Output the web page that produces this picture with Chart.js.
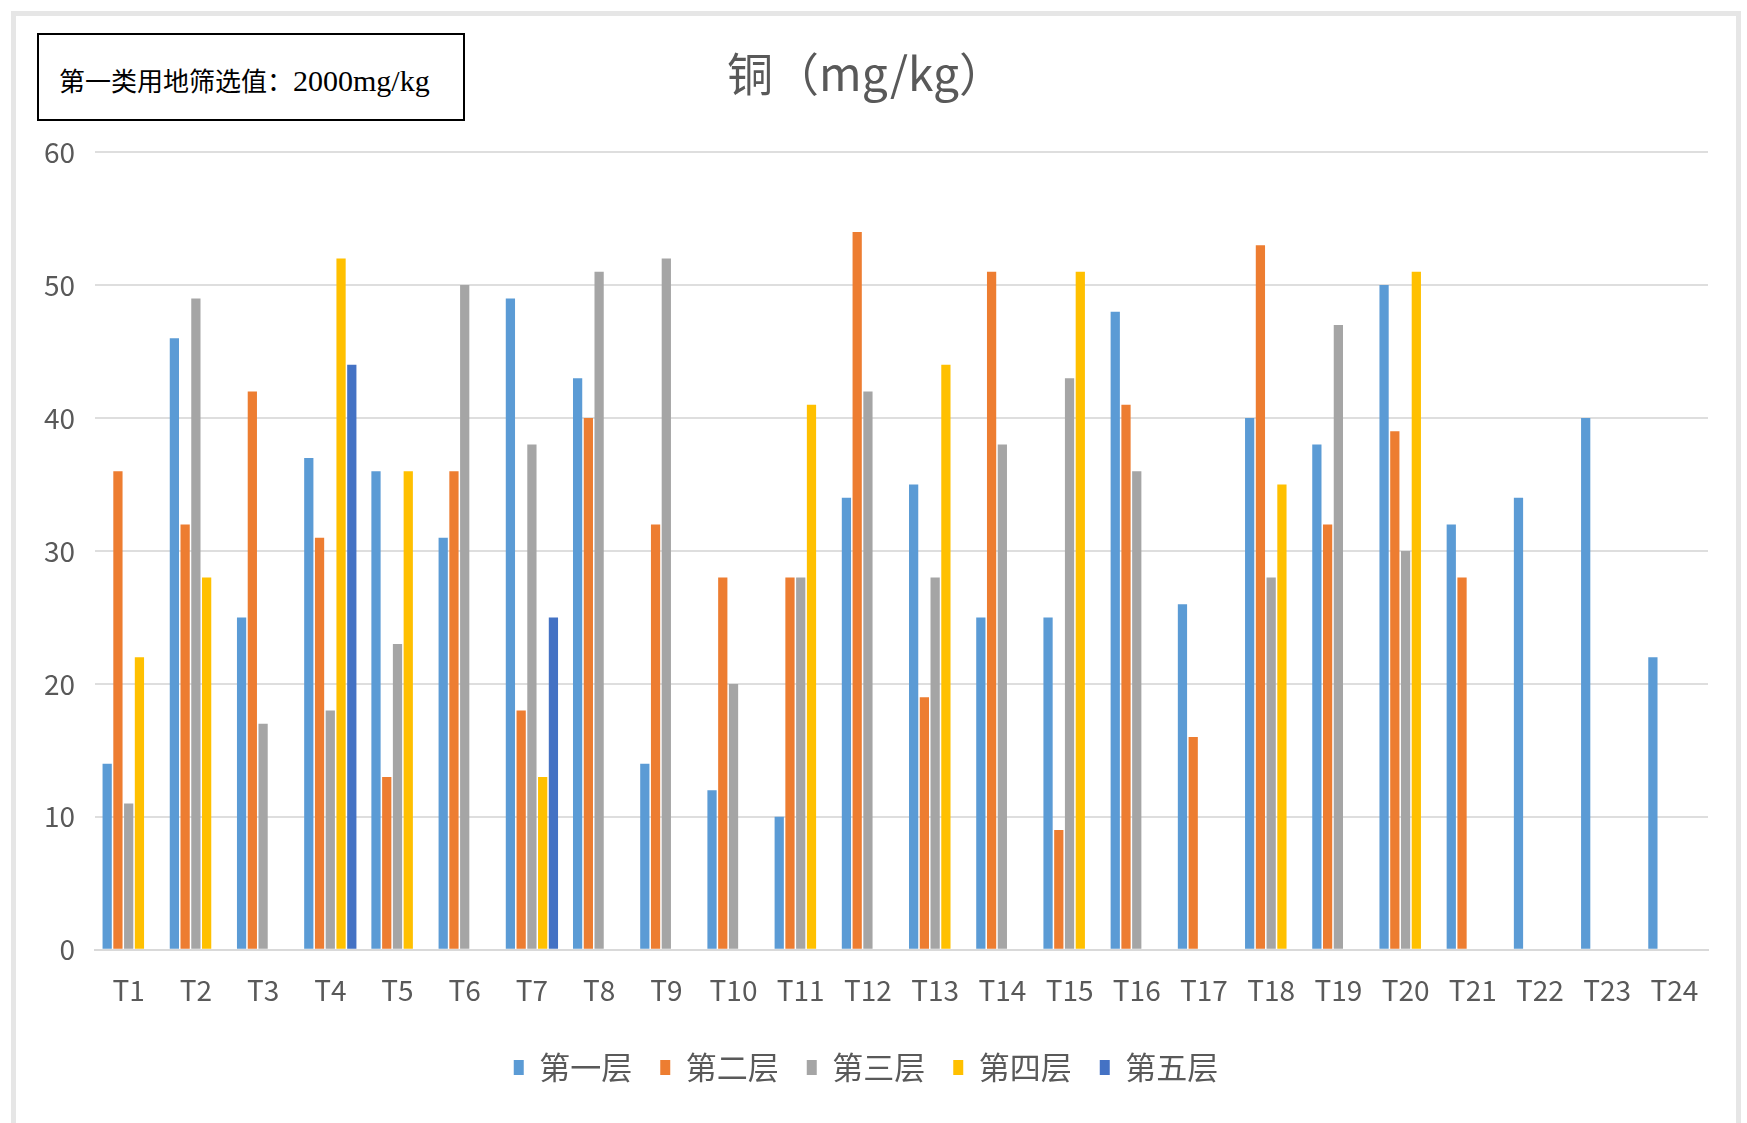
<!DOCTYPE html>
<html>
<head>
<meta charset="utf-8">
<script src="https://cdn.jsdelivr.net/npm/chart.js@4.4.1/dist/chart.umd.min.js"></script>
<style>
  body { margin: 0; background: #fff; }
  #wrap { position: relative; width: 1747px; height: 1123px; overflow: hidden; }
  #frame { position: absolute; left: 11px; top: 11px; width: 1730px; height: 1120px;
           border: 5px solid #e6e6e6; border-bottom: none; box-sizing: border-box; }
  #grafico { position: absolute; left: 0; top: 0; }
  #nota { position: absolute; left: 37px; top: 33px; width: 428px; height: 88px;
          border: 2px solid #000; background: #fff; box-sizing: border-box;
          font-family: "Noto Sans CJK SC", serif; font-size: 26px;
          color: #000; line-height: 90px; padding-left: 20px; white-space: nowrap; }
  #nota span { font-family: "Liberation Serif", serif; font-size: 30px; }
</style>
</head>
<body>
<div id="wrap">
  <div id="frame"></div>
  <canvas id="grafico" width="1747" height="1123"></canvas>
  <div id="nota">第一类用地筛选值：<span>2000mg/kg</span></div>
</div>
<script>
// 铜含量 各采样点 各层
const pontos = ["T1","T2","T3","T4","T5","T6","T7","T8","T9","T10","T11","T12",
                "T13","T14","T15","T16","T17","T18","T19","T20","T21","T22","T23","T24"];
const camada1 = [14,46,25,37,36,31,49,43,14,12,10,34,35,25,25,48,26,40,38,50,32,34,40,22];
const camada2 = [36,32,42,31,13,36,18,40,32,28,28,54,19,51,9,41,16,53,32,39,28,null,null,null];
const camada3 = [11,49,17,18,23,50,38,51,52,20,28,42,28,38,43,36,null,28,47,30,null,null,null,null];
const camada4 = [22,28,null,52,36,null,13,null,null,null,41,null,44,null,51,null,null,35,null,51,null,null,null,null];
const camada5 = [null,null,null,44,null,null,25,null,null,null,null,null,null,null,null,null,null,null,null,null,null,null,null,null];
const nomesCamadas = ["第一层","第二层","第三层","第四层","第五层"];
const coresCamadas = ["#5B9BD5","#ED7D31","#A5A5A5","#FFC000","#4472C4"];
const yTicks = [0,10,20,30,40,50,60];

const cinza = "#595959";
const fonte = '"Noto Sans CJK SC", "Noto Sans", sans-serif';

const series = [camada1, camada2, camada3, camada4, camada5];
const datasets = series.map((d, i) => ({
    label: nomesCamadas[i],
    data: d,
    backgroundColor: coresCamadas[i],
    borderWidth: 0,
    categoryPercentage: 0.8,
    barPercentage: 0.86
}));

const ctx = document.getElementById('grafico').getContext('2d');
window.meuGrafico = new Chart(ctx, {
    type: 'bar',
    data: { labels: pontos, datasets: datasets },
    options: {
        responsive: false,
        animation: false,
        layout: { padding: { left: 24, right: 39, top: 46, bottom: 30 } },
        plugins: {
            title: {
                display: true,
                text: '铜（mg/kg）',
                color: cinza,
                font: { family: fonte, size: 46, weight: 'normal' },
                padding: { top: 0, bottom: 51 }
            },
            legend: {
                position: 'bottom',
                labels: {
                    color: cinza,
                    font: { family: fonte, size: 31 },
                    boxWidth: 10,
                    boxHeight: 15,
                    padding: 28
                }
            },
            tooltip: { enabled: false }
        },
        scales: {
            x: {
                grid: { display: false, drawTicks: false },
                border: { color: '#d9d9d9', width: 2 },
                ticks: { color: cinza, font: { family: fonte, size: 28, lineHeight: 0.01 }, padding: 40 },
                afterFit: eixo => { eixo.height = eixo.height - 6; } // eixo um pouco mais baixo
            },
            y: {
                min: 0,
                max: 60,
                afterBuildTicks: axis => { axis.ticks = yTicks.map(v => ({ value: v })); },
                grid: { color: '#dedede', lineWidth: 2, drawTicks: false },
                border: { display: false },
                ticks: { color: cinza, font: { family: fonte, size: 28 }, padding: 20 }
            }
        }
    }
});
</script>
</body>
</html>
